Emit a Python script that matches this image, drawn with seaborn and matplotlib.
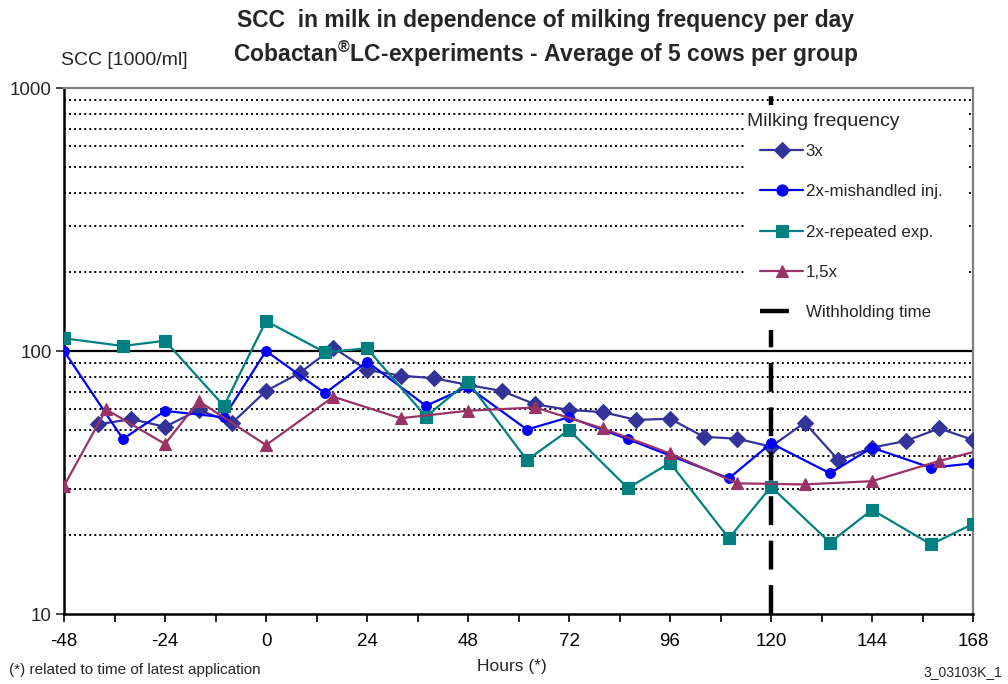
import matplotlib
matplotlib.use("Agg")
import matplotlib.pyplot as plt
import matplotlib.ticker as mticker
from matplotlib.lines import Line2D
from matplotlib.patches import Rectangle
import numpy as np
import pandas as pd
import seaborn as sns

# ---------------- data ----------------
hours_3x = [-40, -32, -24, -16, -8, 0, 8, 16, 24, 32, 40, 48, 56, 64, 72, 80, 88, 96,
            104, 112, 120, 128, 136, 144, 152, 160, 168]
scc_3x = [52.6, 55.1, 51.5, 59.7, 53.4, 70.5, 82.5, 103.0, 84.7, 80.6, 78.8, 74.3, 70.5,
          62.7, 59.7, 58.6, 54.7, 55.3, 47.2, 46.4, 43.3, 53.4, 38.5, 42.9, 45.5, 50.8, 45.9]

hours_mis = [-48, -34, -24, -10, 0, 14, 24, 38, 48, 62, 72, 86, 110, 120, 134, 144, 158, 168]
scc_mis = [100.0, 46.3, 59.2, 56.0, 100.0, 69.1, 91.1, 61.9, 73.1, 50.3, 56.0, 46.2,
           32.8, 44.6, 34.3, 42.9, 36.0, 37.4]

hours_rep = [-48, -34, -24, -10, 0, 14, 24, 38, 48, 62, 72, 86, 96, 110, 120, 134, 144, 158, 168]
scc_rep = [111.8, 104.5, 109.4, 61.8, 130.0, 98.9, 102.4, 56.3, 76.4, 38.5, 50.1, 30.1,
           37.6, 19.4, 30.5, 18.7, 24.9, 18.4, 22.0]

hours_15 = [-48, -38, -24, -16, 0, 16, 32, 48, 64, 80, 96, 112, 128, 144, 160, 176]
scc_15 = [30.7, 60.0, 44.3, 64.5, 43.9, 67.0, 55.5, 59.3, 61.0, 50.8, 40.8, 31.4,
          31.1, 32.0, 38.2, 44.6]

series_labels = ["3x", "2x-mishandled inj.", "2x-repeated exp.", "1,5x"]
legend_title = "Milking frequency"
withholding_time = 120
withholding_label = "Withholding time"

x_ticks = [-48, -24, 0, 24, 48, 72, 96, 120, 144, 168]
y_ticks = [10, 100, 1000]

# ---------------- style ----------------
sns.set_style("white")
plt.rcParams["font.family"] = ["Liberation Sans", "DejaVu Sans"]
plt.rcParams["axes.unicode_minus"] = False
plt.rcParams["mathtext.fontset"] = "custom"
plt.rcParams["mathtext.rm"] = "Liberation Sans:bold"
plt.rcParams["mathtext.it"] = "Liberation Sans:bold"
plt.rcParams["mathtext.bf"] = "Liberation Sans:bold"

fig = plt.figure(figsize=(10.08, 6.84), dpi=100)
ax = fig.add_axes([0.0635, 0.1023, 0.9018, 0.7690])

styles = [
    (hours_3x, scc_3x, "#333399", "D", 8),
    (hours_mis, scc_mis, "#0000FF", "o", 7),
    (hours_rep, scc_rep, "#008080", "s", 8),
    (hours_15, scc_15, "#993366", "^", 9),
]
for (hx, vy, col, mk, ms), lab in zip(styles, series_labels):
    df = pd.DataFrame({"Hours": hx, "SCC": vy})
    sns.lineplot(data=df, x="Hours", y="SCC", ax=ax, color=col, marker=mk,
                 markersize=ms, markeredgecolor=col, markeredgewidth=0.8,
                 linewidth=1.6, label=lab, zorder=3)

ax.set_yscale("log")
ax.set_xlim(-48, 168)
ax.set_ylim(10, 1000)

# gridlines
ax.yaxis.set_minor_locator(mticker.LogLocator(base=10, subs=np.arange(2, 10)))
ax.yaxis.set_minor_formatter(mticker.NullFormatter())
ax.grid(which="minor", axis="y", color="black", linestyle=(0, (1, 1.6)), linewidth=1.4)
ax.grid(which="major", axis="y", visible=False)
ax.grid(axis="x", visible=False)
ax.axhline(100, color="black", linewidth=1.6, zorder=2)
ax.tick_params(axis="y", which="minor", length=0)

ax.vlines(withholding_time, 10, 1000, colors="black", linewidth=3.2,
          linestyles=[(0, (6.5, 3.5))], zorder=4)

ax.set_xticks(x_ticks)
ax.set_xticks(np.arange(-48, 169, 12), minor=True)
ax.set_yticks(y_ticks)
ax.yaxis.set_major_formatter(mticker.FuncFormatter(lambda v, p: f"{int(v)}"))
ax.tick_params(axis="x", which="both", direction="out", length=6, width=1.2,
               bottom=True, labelsize=13.5, pad=8, colors="black")
ax.tick_params(axis="y", which="major", direction="out", length=6, width=1.2,
               left=True, labelsize=13.5, pad=3)
ax.set_xlabel("")
ax.set_ylabel("")

for s in ["left", "bottom"]:
    ax.spines[s].set_color("black")
    ax.spines[s].set_linewidth(1.8)
for s in ["top", "right"]:
    ax.spines[s].set_color("#808080")
    ax.spines[s].set_linewidth(1.6)
    ax.spines[s].set_visible(True)

# legend: white panel, title text, then entries
ax.add_patch(Rectangle((0.749, 0.540), 0.2455, 0.4277, transform=ax.transAxes,
                       facecolor="white", edgecolor="none", zorder=5))
ax.text(0.7514, 0.9373, legend_title, transform=ax.transAxes, ha="left", va="center",
        fontsize=14, zorder=6)
handles, labels = ax.get_legend_handles_labels()
handles.append(Line2D([0], [0], color="black", linewidth=3.2, linestyle=(0, (6.5, 3.5))))
labels.append(withholding_label)
leg = ax.legend(handles, labels, loc="center left", bbox_to_anchor=(0.7657, 0.7262),
                frameon=False, fontsize=12.2, labelspacing=1.5, handlelength=2.55,
                handletextpad=0.15, borderpad=0.0, borderaxespad=0.0)
leg.set_zorder(10)
for h in leg.legend_handles[:4]:
    h.set_markersize(8)

# titles and texts
fig.text(0.541, 0.970, "SCC  in milk in dependence of milking frequency per day",
         ha="center", va="center", fontsize=16.5, fontweight="bold")
fig.text(0.541, 0.921, r"Cobactan$^{\circledR}$LC-experiments - Average of 5 cows per group",
         ha="center", va="center", fontsize=16.5, fontweight="bold")
fig.text(0.061, 0.911, "SCC [1000/ml]", ha="left", va="center", fontsize=14)
fig.text(0.508, 0.025, "Hours (*)", ha="center", va="center", fontsize=12.5)
fig.text(0.009, 0.020, "(*) related to time of latest application", ha="left",
         va="center", fontsize=11)
fig.text(0.994, 0.017, "3_03103K_1", ha="right", va="center", fontsize=10)

fig.savefig("out.png", dpi=100)
